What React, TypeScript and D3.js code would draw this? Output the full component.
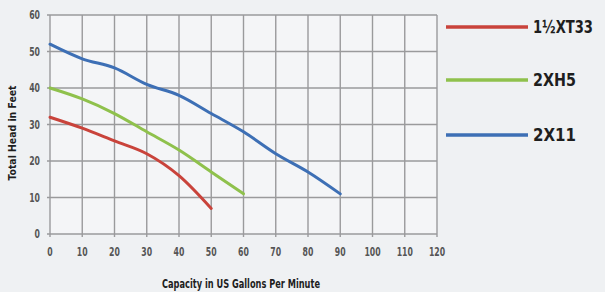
import React from 'react'
import * as d3 from 'd3'

const capacity = [0, 10, 20, 30, 40, 50, 60, 70, 80, 90]
const xt33 = [32, 29, 25.5, 22, 16, 7]
const xh5 = [40, 37, 33, 28, 23, 17, 11]
const x11 = [52, 48, 45.5, 41, 38, 33, 28, 22, 17, 11]
const xTicks = [0, 10, 20, 30, 40, 50, 60, 70, 80, 90, 100, 110, 120]
const yTicks = [0, 10, 20, 30, 40, 50, 60]

const seriesNames = ['1½XT33', '2XH5', '2X11']
const seriesColors = ['#c9433b', '#8fc14c', '#3d6fb5']
const seriesValues = [xt33, xh5, x11]

const FONT = "'Liberation Sans Narrow', 'DejaVu Sans Condensed', sans-serif"

export default function App() {
    const x = d3.scaleLinear().domain([0, 120]).range([50, 437])
    const y = d3.scaleLinear().domain([0, 60]).range([234, 15])

    const line = d3.line<number>()
        .x((d, i) => x(capacity[i]))
        .y(d => y(d))
        .curve(d3.curveMonotoneX)

    return (
        <svg width={605} height={292} style={{ position: 'absolute', left: 0, top: 0, background: '#eff1f3' }}>
            <rect x={x(0)} y={y(60)} width={x(120) - x(0)} height={y(0) - y(60)} fill="#f4f5f7" />
            {/* grid */}
            {xTicks.map(t => (
                <line key={'gx' + t} x1={x(t)} x2={x(t)} y1={y(60)} y2={y(0) + 3} stroke="#9a9a9c" strokeWidth={1.4} />
            ))}
            {yTicks.map(t => (
                <line key={'gy' + t} x1={x(0) - 3} x2={x(120)} y1={y(t)} y2={y(t)} stroke="#9a9a9c" strokeWidth={1.4} />
            ))}
            {/* tick labels */}
            {yTicks.map(t => (
                <text key={'ly' + t} x={40} y={y(t)} dy="0.35em" textAnchor="end" fontFamily={FONT} fontWeight="bold"
                    fontSize={12} fill="#555" transform={`translate(40,0) scale(0.72,1) translate(-40,0)`}>{t}</text>
            ))}
            {xTicks.map(t => (
                <text key={'lx' + t} x={x(t)} y={252} dy="0.35em" textAnchor="middle" fontFamily={FONT} fontWeight="bold"
                    fontSize={12} fill="#555" transform={`translate(${x(t)},0) scale(0.72,1) translate(${-x(t)},0)`}>{t}</text>
            ))}
            {/* axis titles */}
            <text x={0} y={0} transform="translate(16,133) rotate(-90)" textAnchor="middle" fontFamily={FONT}
                fontWeight="bold" fontSize={11} fill="#1e1e1e" textLength={95} lengthAdjust="spacingAndGlyphs">Total Head in Feet</text>
            <text x={241} y={288} textAnchor="middle" fontFamily={FONT} fontWeight="bold" fontSize={12} fill="#1e1e1e"
                textLength={158} lengthAdjust="spacingAndGlyphs">Capacity in US Gallons Per Minute</text>
            {/* series */}
            {seriesValues.map((vals, i) => (
                <path key={'s' + i} d={line(vals) || ''} fill="none" stroke={seriesColors[i]} strokeWidth={3} strokeLinecap="round" />
            ))}
            {/* legend */}
            {seriesNames.map((n, i) => {
                const ly = [27, 80, 135][i]
                return (
                    <g key={'lg' + i}>
                        <line x1={446} x2={528} y1={ly} y2={ly} stroke={seriesColors[i]} strokeWidth={3.5} />
                        <text x={533} y={ly} dy="0.36em" fontFamily={FONT} fontWeight="bold" fontSize={17} fill="#1e1e1e"
                            textLength={[60, 43, 43][i]} lengthAdjust="spacingAndGlyphs">{n}</text>
                    </g>
                )
            })}
        </svg>
    )
}
